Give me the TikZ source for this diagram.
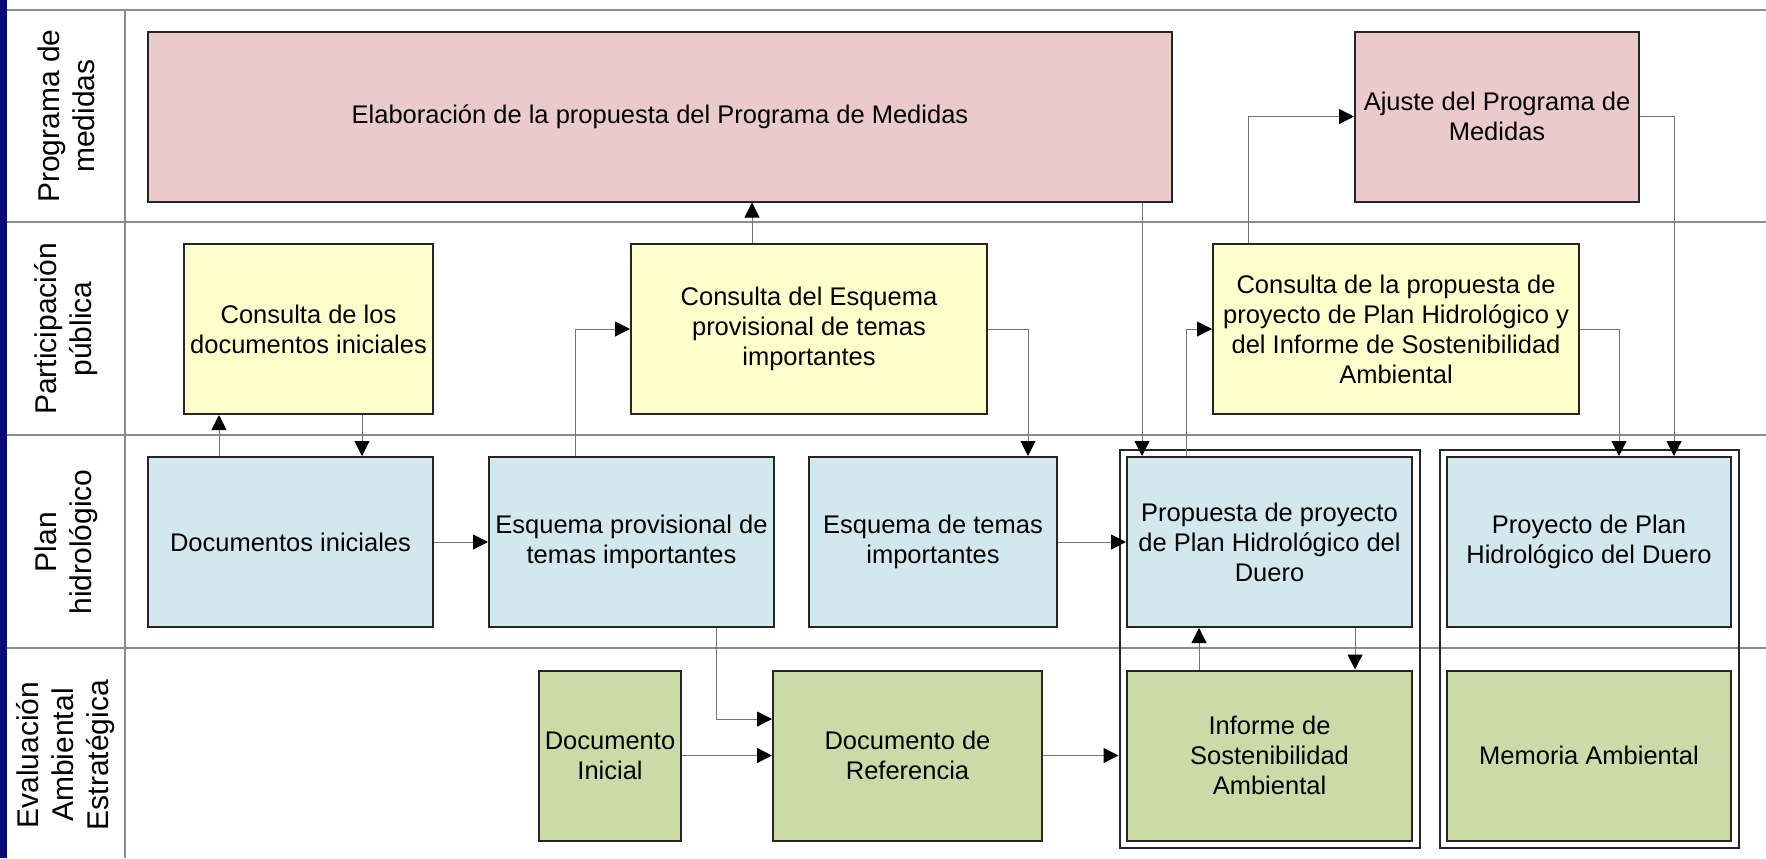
\documentclass[tikz,border=0pt]{standalone}
\usepackage{fontspec}
\setmainfont{Liberation Sans}
\usetikzlibrary{
		calc,
		fit,
		arrows.meta
	}
\tikzset{
		>={Triangle[length=7.5pt,width=7.5pt,color=black]}
	}
\definecolor{rosa}{HTML}{EACACA}
\definecolor{amarillo}{HTML}{FFFFCC}
\definecolor{celeste}{HTML}{D2E8EE}
\definecolor{verde}{HTML}{CBDAA7}
\definecolor{marino}{HTML}{0A0A7A}

\begin{document}
\begin{tikzpicture}[x=0.5pt, y=-0.5pt,
	caja/.style={draw=black!85, line width=1pt, minimum height=85pt, inner sep=2pt, align=center, font=\fontsize{12.75}{15}\selectfont},
	medidas/.style={caja, fill=rosa},
	consulta/.style={caja, fill=amarillo},
	plan/.style={caja, fill=celeste},
	eae/.style={caja, fill=verde},
	marco/.style={draw=black!85, line width=1pt, inner sep=3.25pt},
	carril/.style={draw=black!45, line width=0.7pt},
	flecha/.style={draw=black!55, line width=0.5pt, ->},
	cabecera/.style={rotate=90, align=center, font=\fontsize{15}{17.5}\selectfont}]
	\useasboundingbox (0,0) rectangle (1766,858);
	% carriles
	\fill[marino] (0,0) rectangle (7,858);
	\draw[carril] (7,10) -- (1766,10);
	\draw[carril] (7,222) -- (1766,222);
	\draw[carril] (7,435) -- (1766,435);
	\draw[carril] (7,648) -- (1766,648);
	\draw[carril] (125,10) -- (125,858);
	\node[cabecera] (hmed) at (66,116) {Programa de\\medidas};
	\node[cabecera] (hpart) at (66,329) {Participación\\pública};
	\node[cabecera] (hplan) at (66,542) {Plan\\hidrológico};
	\node[cabecera] (heae) at (66,755) {Evaluación\\Ambiental\\Estratégica};
	% cajas
	\node[medidas, minimum width=512pt] (elab) at (660,116.5) {Elaboración de la propuesta del Programa de Medidas};
	\node[medidas, minimum width=142pt] (ajuste) at (1497,116.5) {Ajuste del Programa de\\Medidas};
	\node[consulta, minimum width=124.5pt] (condoc) at (308.5,329) {Consulta de los\\documentos iniciales};
	\node[consulta, minimum width=178pt] (conesq) at (809,329) {Consulta del Esquema\\provisional de temas\\importantes};
	\node[consulta, minimum width=183pt] (conprop) at (1396,329) {Consulta de la propuesta de\\proyecto de Plan Hidrológico y\\del Informe de Sostenibilidad\\Ambiental};
	\node[plan, minimum width=142.5pt] (docini) at (290.5,542) {Documentos iniciales};
	\node[plan, minimum width=142.5pt] (esqprov) at (631.5,542) {Esquema provisional de\\temas importantes};
	\node[plan, minimum width=124pt] (esqtem) at (933,542) {Esquema de temas\\importantes};
	\node[plan, minimum width=142.5pt] (propuesta) at (1269.5,542) {Propuesta de proyecto\\de Plan Hidrológico del\\Duero};
	\node[plan, minimum width=142pt] (proyecto) at (1589,542) {Proyecto de Plan\\Hidrológico del Duero};
	\node[eae, minimum width=71pt] (docinicial) at (610,755.5) {Documento\\Inicial};
	\node[eae, minimum width=134.5pt] (docref) at (907.5,755.5) {Documento de\\Referencia};
	\node[eae, minimum width=142.5pt] (informe) at (1269.5,755.5) {Informe de\\Sostenibilidad\\Ambiental};
	\node[eae, minimum width=142pt] (memoria) at (1589,755.5) {Memoria Ambiental};
	\node[marco, fit=(propuesta)(informe)] (marcoA) {};
	\node[marco, fit=(proyecto)(memoria)] (marcoB) {};
	% conexiones
	\draw[flecha] ([xshift=-35.75pt]docini.north) -- ([xshift=-35.75pt]docini.north |- condoc.south);
	\draw[flecha] ([xshift=35.75pt]docini.north |- condoc.south) -- ([xshift=35.75pt]docini.north);
	\draw[flecha] (docini) -- (esqprov);
	\draw[flecha] ([xshift=-28.25pt]esqprov.north) |- (conesq);
	\draw[flecha] ([xshift=-28.5pt]conesq.north) -- ([xshift=-28.5pt]conesq.north |- elab.south);
	\draw[flecha] (conesq) -| ([xshift=47.5pt]esqtem.north);
	\draw[flecha] (esqtem) -- (propuesta);
	\draw[flecha] ([xshift=-63.75pt]propuesta.north |- elab.south) -- ([xshift=-63.75pt]propuesta.north);
	\draw[flecha] ([xshift=-41.75pt]propuesta.north) |- (conprop);
	\draw[flecha] ([xshift=-74pt]conprop.north) |- (ajuste);
	\draw[flecha] (ajuste) -| ([xshift=42.5pt]proyecto.north);
	\draw[flecha] (conprop) -| ([xshift=15pt]proyecto.north);
	\draw[flecha] ([xshift=-35.25pt]informe.north) -- ([xshift=-35.25pt]informe.north |- propuesta.south);
	\draw[flecha] ([xshift=42.75pt]propuesta.south) -- ([xshift=42.75pt]propuesta.south |- informe.north);
	\draw[flecha] ([xshift=42.25pt]esqprov.south) |- ([yshift=18.25pt]docref.west);
	\draw[flecha] (docinicial) -- (docref);
	\draw[flecha] (docref) -- (docref -| marcoA.west); % llega al marco, no a la caja
\end{tikzpicture}
\end{document}
